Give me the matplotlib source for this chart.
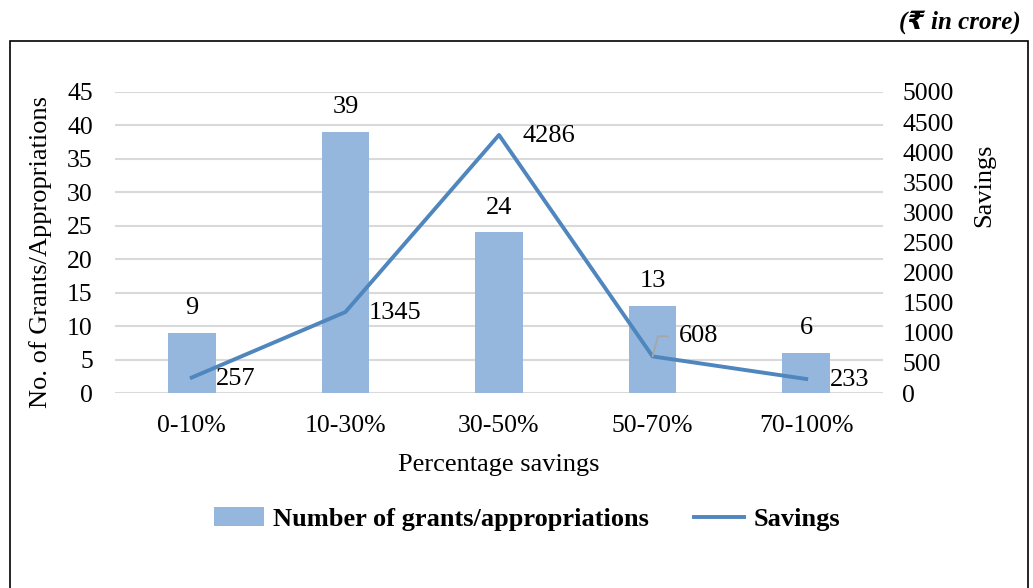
import numpy as np
import matplotlib
matplotlib.use("Agg")
import matplotlib.pyplot as plt
from matplotlib.patches import Rectangle

plt.rcParams['font.family'] = ['Liberation Serif', 'DejaVu Sans']

categories = ['0-10%', '10-30%', '30-50%', '50-70%', '70-100%']
grants = [9, 39, 24, 13, 6]
savings = [257, 1345, 4286, 608, 233]

bar_color = '#95B7DE'
line_color = '#4F86BE'
grid_color = '#D9D9D9'

fig = plt.figure(figsize=(10.33, 5.88), dpi=100)
ax = fig.add_axes([0.1113, 0.3316, 0.7435, 0.512])
ax2 = ax.twinx()

x = np.arange(len(categories))
bars = ax.bar(x, grants, width=0.31, color=bar_color, zorder=2,
              label='Number of grants/appropriations')
ax.bar_label(bars, padding=10, fontsize=19)

ln, = ax2.plot(x, savings, color=line_color, lw=2.8, zorder=3, label='Savings')

# line labels, right of each point
for i, v in enumerate(savings):
    if v == 608:
        ax2.annotate(str(v), (x[i], v), xytext=(19, 14.5), textcoords='offset points',
                     fontsize=19, va='center', ha='left',
                     arrowprops=dict(arrowstyle='-', color='#A6A6A6', lw=1.3,
                                     shrinkA=6, shrinkB=0,
                                     connectionstyle='angle,angleA=0,angleB=75,rad=0'))
    else:
        ax2.annotate(str(v), (x[i], v), xytext=(17, -1), textcoords='offset points',
                     fontsize=19, va='center', ha='left')

ax.set_xlim(-0.5, 4.5)
ax.set_ylim(0, 45)
ax.set_yticks(np.arange(0, 46, 5))
ax2.set_ylim(0, 5000)
ax2.set_yticks(np.arange(0, 5001, 500))

ax.set_xticks(x)
ax.set_xticklabels(categories)
ax.tick_params(axis='x', length=0, pad=16, labelsize=18.5)
ax.tick_params(axis='y', length=0, pad=16, labelsize=18.5)
ax2.tick_params(axis='y', length=0, pad=14, labelsize=18.5)

ax.yaxis.grid(True, color=grid_color, lw=1.5, zorder=0)
ax.set_axisbelow(True)
for a in (ax, ax2):
    for s in a.spines.values():
        s.set_visible(False)

ax.set_xlabel('Percentage savings', fontsize=19, labelpad=12)
ax.set_ylabel('No. of Grants/Appropriations', fontsize=19)
ax.yaxis.set_label_coords(-0.082, 0.47)
ax2.set_ylabel('Savings', fontsize=19)
ax2.yaxis.set_label_coords(1.118, 0.69)

handles = [bars, ln]
fig.legend(handles, [h.get_label() for h in handles], loc='center',
           bbox_to_anchor=(0.51, 0.117), ncol=2, frameon=False,
           prop={'weight': 'bold', 'size': 19}, handlelength=1.9,
           handletextpad=0.35, columnspacing=1.7)

# outer frame
fig.patches.append(Rectangle((10 / 1033, -0.05), 1018 / 1033, 1.05 - 41 / 588,
                             transform=fig.transFigure, fill=False,
                             edgecolor='black', lw=1.2))

fig.text(0.988, 0.962, '(\u20b9 in crore)', ha='right', va='center',
         fontsize=18, fontweight='bold', fontstyle='italic')

fig.savefig('out.png', dpi=100)
